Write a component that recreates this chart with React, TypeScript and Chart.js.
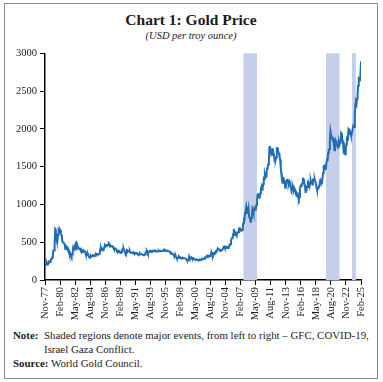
import React, { useEffect, useRef } from "react";
import { Chart, registerables } from "chart.js";

Chart.register(...registerables);

// Monthly gold price (USD per troy ounce), first point = Jul-78, last = Feb-25
const firstMonth = "Jul-78";
const goldPrice: number[] = [
  200, 206, 212, 228, 206, 207,
  227, 245, 242, 239, 257, 279, 295, 301, 355, 392, 392, 456,
  675, 665, 553, 517, 513, 600, 645, 627, 674, 661, 623, 594,
  557, 500, 499, 496, 480, 461, 409, 410, 444, 437, 413, 410,
  384, 374, 330, 350, 334, 315, 339, 364, 436, 422, 414, 444,
  481, 492, 420, 432, 438, 413, 422, 416, 412, 394, 382, 388,
  371, 387, 394, 381, 377, 378, 348, 348, 341, 340, 341, 320,
  303, 299, 304, 325, 316, 317, 317, 330, 323, 326, 325, 322,
  345, 339, 346, 340, 342, 343, 348, 376, 418, 423, 398, 391,
  408, 401, 409, 438, 460, 450, 451, 461, 460, 465, 466, 486,
  477, 442, 444, 452, 451, 451, 437, 431, 413, 406, 420, 419,
  404, 388, 390, 384, 371, 367, 375, 365, 362, 367, 394, 409,
  410, 417, 393, 374, 369, 352, 362, 395, 389, 381, 381, 378,
  384, 364, 363, 358, 357, 367, 368, 356, 349, 359, 360, 361,
  354, 354, 345, 338, 337, 341, 352, 343, 345, 344, 335, 334,
  329, 330, 330, 342, 367, 372, 392, 379, 355, 364, 374, 383,
  387, 382, 384, 378, 381, 386, 385, 380, 391, 390, 384, 379,
  379, 377, 382, 391, 385, 387, 386, 383, 383, 383, 386, 387,
  400, 405, 396, 393, 392, 385, 383, 387, 383, 381, 378, 369,
  355, 347, 352, 344, 344, 341, 324, 324, 323, 325, 306, 289,
  289, 297, 296, 308, 299, 292, 293, 284, 289, 296, 294, 291,
  287, 288, 286, 282, 277, 262, 256, 257, 265, 311, 293, 284,
  284, 300, 286, 280, 275, 286, 282, 274, 273, 270, 266, 272,
  266, 262, 263, 261, 272, 270, 268, 273, 283, 283, 276, 276,
  282, 296, 294, 302, 314, 321, 314, 310, 319, 317, 319, 333,
  357, 359, 340, 328, 355, 356, 351, 360, 379, 379, 389, 407,
  414, 405, 406, 404, 384, 392, 398, 400, 406, 420, 439, 442,
  424, 423, 434, 429, 422, 431, 424, 438, 456, 470, 476, 510,
  549, 555, 557, 610, 676, 596, 634, 632, 599, 586, 627, 629,
  631, 665, 655, 679, 667, 655, 665, 665, 713, 754, 806, 803,
  889, 922, 968, 909, 888, 889, 939, 839, 830, 806, 760, 816,
  858, 943, 924, 890, 928, 946, 934, 949, 996, 1043, 1127, 1134,
  1118, 1095, 1113, 1148, 1205, 1232, 1193, 1215, 1271, 1343, 1370, 1391,
  1356, 1372, 1424, 1474, 1510, 1529, 1572, 1756, 1772, 1665, 1739, 1652,
  1656, 1743, 1674, 1650, 1585, 1596, 1594, 1626, 1744, 1747, 1721, 1688,
  1671, 1627, 1593, 1487, 1414, 1343, 1286, 1352, 1348, 1316, 1275, 1221,
  1244, 1300, 1336, 1299, 1287, 1279, 1311, 1296, 1239, 1222, 1176, 1200,
  1251, 1227, 1178, 1198, 1199, 1181, 1128, 1117, 1125, 1159, 1086, 1068,
  1097, 1200, 1246, 1243, 1260, 1276, 1337, 1341, 1326, 1267, 1236, 1152,
  1192, 1234, 1231, 1267, 1246, 1260, 1236, 1283, 1315, 1280, 1282, 1265,
  1331, 1331, 1325, 1335, 1303, 1282, 1238, 1202, 1198, 1215, 1221, 1250,
  1291, 1320, 1301, 1286, 1284, 1359, 1413, 1500, 1511, 1495, 1471, 1480,
  1560, 1597, 1592, 1683, 1716, 1732, 1846, 1968, 1922, 1900, 1867, 1858,
  1867, 1808, 1718, 1760, 1850, 1834, 1807, 1785, 1775, 1777, 1821, 1790,
  1817, 1856, 1948, 1937, 1849, 1836, 1733, 1765, 1681, 1665, 1726, 1798,
  1898, 1855, 1913, 2000, 1992, 1943, 1951, 1918, 1916, 1916, 1985, 2031,
  2034, 2024, 2159, 2331, 2351, 2326, 2399, 2470, 2571, 2690, 2651, 2648,
  2708, 2895,
];

const tickLabels = [
  "Nov-77", "Feb-80", "May-82", "Aug-84", "Nov-86", "Feb-89", "May-91", "Aug-93",
  "Nov-95", "Feb-98", "May-00", "Aug-02", "Nov-04", "Feb-07", "May-09", "Aug-11",
  "Nov-13", "Feb-16", "May-18", "Aug-20", "Nov-22", "Feb-25",
];

const yTicks = [0, 500, 1000, 1500, 2000, 2500, 3000];

// Shaded events: GFC, COVID-19, Israel Gaza Conflict
const eventNames = ["GFC", "COVID-19", "Israel Gaza Conflict"];
const eventStart = ["Oct-07", "Dec-19", "Oct-23"];
const eventEnd = ["Oct-09", "Dec-21", "May-24"];

const MONTHS = ["Jan", "Feb", "Mar", "Apr", "May", "Jun", "Jul", "Aug", "Sep", "Oct", "Nov", "Dec"];
function monthNumber(label: string): number {
  const [m, yy] = label.split("-");
  const y2 = parseInt(yy, 10);
  const year = y2 < 50 ? 2000 + y2 : 1900 + y2;
  return year * 12 + MONTHS.indexOf(m);
}
function monthIndex(label: string): number {
  return monthNumber(label) - monthNumber(firstMonth);
}

const LINE = "#1f6db4";
const SHADE = "#c5cfea";
const SERIF = "'Liberation Serif', 'Times New Roman', serif";

const shadePlugin = {
  id: "eventShade",
  beforeDatasetsDraw(chart: any) {
    const { ctx, chartArea, scales } = chart;
    const xs = scales.x;
    ctx.save();
    ctx.fillStyle = SHADE;
    for (let i = 0; i < eventNames.length; i++) {
      const x1 = xs.getPixelForValue(monthIndex(eventStart[i]));
      const x2 = xs.getPixelForValue(monthIndex(eventEnd[i]));
      ctx.fillRect(x1, chartArea.top, x2 - x1, chartArea.bottom - chartArea.top);
    }
    ctx.restore();
  },
};

export default function App() {
  const ref = useRef<HTMLCanvasElement | null>(null);

  useEffect(() => {
    if (!ref.current) return;
    const N = goldPrice.length;
    const chart = new Chart(ref.current, {
      type: "line",
      data: {
        datasets: [
          {
            label: "Gold Price",
            data: goldPrice.map((v, i) => ({ x: i, y: v })),
            borderColor: LINE,
            borderWidth: 2,
            pointRadius: 0,
            tension: 0,
            fill: false,
          },
        ],
      },
      options: {
        animation: false,
        responsive: false,
        maintainAspectRatio: false,
        layout: { padding: { top: 8, right: 22, left: 0, bottom: 0 } },
        plugins: {
          legend: { display: false },
          tooltip: { enabled: false },
          title: { display: false },
        },
        scales: {
          x: {
            type: "linear",
            min: 0,
            max: N - 1,
            afterBuildTicks: (s: any) => {
              s.ticks = tickLabels.map((_, k) => ({ value: (k * (N - 1)) / (tickLabels.length - 1) }));
            },
            afterFit: (s: any) => {
              s.height = 45;
            },
            ticks: {
              autoSkip: false,
              maxRotation: 90,
              minRotation: 90,
              padding: 2,
              color: "#222",
              font: { family: SERIF, size: 10.5 },
              callback: (_v: any, i: number) => tickLabels[i],
            },
            grid: { drawOnChartArea: false, drawTicks: true, tickLength: 5, color: "#000", lineWidth: 1 },
            border: { display: true, color: "#000", width: 1.5 },
          },
          y: {
            min: 0,
            max: 3000,
            afterBuildTicks: (s: any) => {
              s.ticks = yTicks.map((v) => ({ value: v }));
            },
            afterFit: (s: any) => {
              s.width = 45;
            },
            ticks: {
              padding: 3,
              color: "#222",
              font: { family: SERIF, size: 10.5 },
              callback: (v: any) => String(v),
            },
            grid: { drawOnChartArea: false, drawTicks: true, tickLength: 5, color: "#000", lineWidth: 1 },
            border: { display: true, color: "#000", width: 1.5 },
          },
        },
      } as any,
      plugins: [shadePlugin],
    });
    return () => chart.destroy();
  }, []);

  return (
    <div style={{ position: "absolute", left: 0, top: 0, width: 383, height: 382, background: "#fff", fontFamily: SERIF, color: "#222" }}>
      <div style={{ position: "absolute", left: 4, top: 3, width: 372, height: 374, border: "1.5px solid #8a8a8a" }} />
      <div style={{ position: "absolute", left: 4, top: 10, width: 374, textAlign: "center", fontWeight: "bold", fontSize: 15.5, lineHeight: "20px", color: "#1a1a1a" }}>
        Chart 1: Gold Price
      </div>
      <div style={{ position: "absolute", left: 4, top: 28, width: 374, textAlign: "center", fontStyle: "italic", fontSize: 10.5, lineHeight: "16px", color: "#222" }}>
        (USD per troy ounce)
      </div>
      <canvas ref={ref} width={383} height={281} style={{ position: "absolute", left: 0, top: 44, width: 383, height: 281 }} />
      <div style={{ position: "absolute", left: 13, top: 328, width: 362, fontSize: 10.9, lineHeight: "14px", color: "#222", whiteSpace: "nowrap" }}>
        <div style={{ display: "flex" }}>
          <span style={{ width: 31, fontWeight: "bold", flex: "none" }}>Note:</span>
          <span>
            Shaded regions denote major events, from left to right – GFC, COVID-19,
            <br />
            Israel Gaza Conflict.
          </span>
        </div>
        <div>
          <span style={{ fontWeight: "bold" }}>Source:</span> World Gold Council.
        </div>
      </div>
    </div>
  );
}
